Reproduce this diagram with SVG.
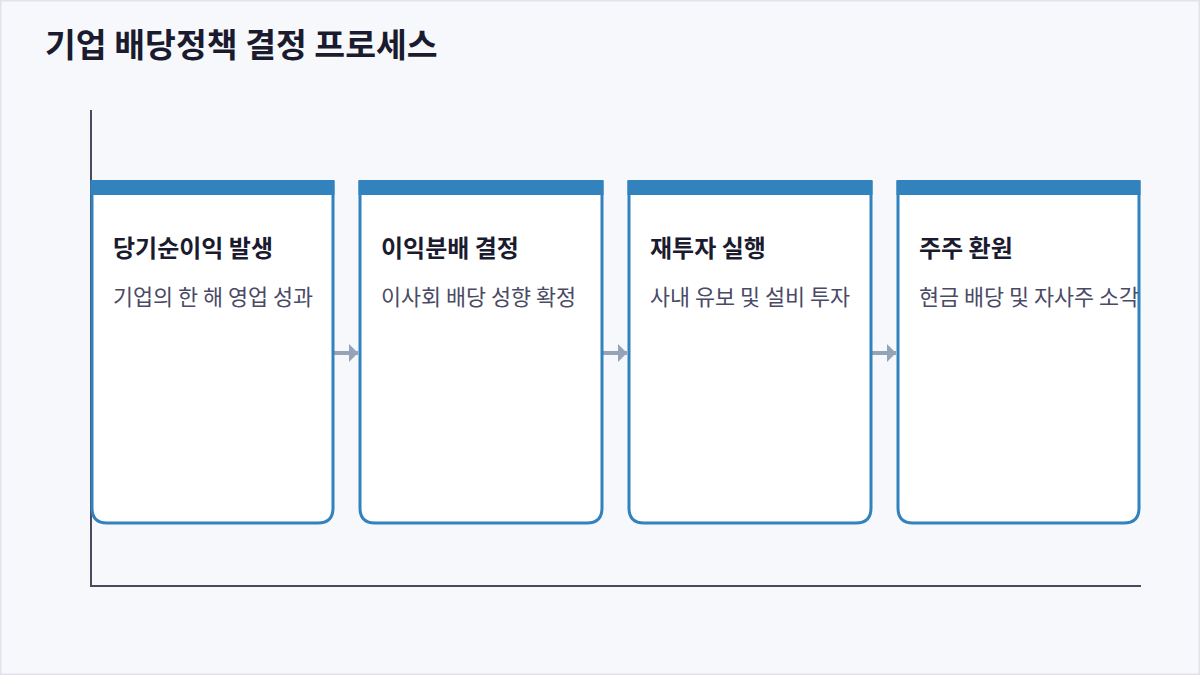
<svg xmlns="http://www.w3.org/2000/svg" width="1200" height="675" viewBox="0 0 1200 675">
<defs>
<style>
.title{font-family:"Noto Sans CJK KR","Noto Sans",sans-serif;font-weight:700;font-size:33.5px;fill:#1b1b2f}
.h{font-family:"Noto Sans CJK KR","Noto Sans",sans-serif;font-weight:700;font-size:24px;fill:#1b1b2f}
.s{font-family:"Noto Sans CJK KR","Noto Sans",sans-serif;font-weight:400;font-size:21.8px;fill:#4a4a66}
.card{fill:#ffffff;stroke:#3182bd;stroke-width:3}
.band{fill:#3182bd}
.axis{stroke:#4a4a5e;stroke-width:2;fill:none}
.arr{stroke:#94a3b8;stroke-width:4;fill:none}
</style>
<marker id="ah" viewBox="0 0 9 18" refX="9" refY="9" markerWidth="2.25" markerHeight="4.5" markerUnits="strokeWidth" orient="auto">
<path d="M0,0 L9,9 L0,18 Z" fill="#94a3b8"/>
</marker>
</defs>
<rect x="0.5" y="0.5" width="1199" height="674" fill="#f7f8fc" stroke="#e0e3eb" stroke-width="2"/>
<text class="title" x="45" y="57">기업 배당정책 결정 프로세스</text>
<g id="axes">
<path class="axis" d="M91,110 V586 H1141"/>
</g>
<g id="connectors">
<path class="arr" d="M331,353 H358" marker-end="url(#ah)"/>
<path class="arr" d="M600,353 H627" marker-end="url(#ah)"/>
<path class="arr" d="M868,353 H896" marker-end="url(#ah)"/>
</g>
<g id="node1">
<path class="card" d="M92,181 V508 Q92,523 107,523 H318 Q333,523 333,508 V181"/>
<rect class="band" x="90.5" y="180" width="244" height="15"/>
<text class="h" x="113" y="257">당기순이익 발생</text>
<text class="s" x="113" y="305">기업의 한 해 영업 성과</text>
</g>
<g id="node2">
<path class="card" d="M360,181 V508 Q360,523 375,523 H587 Q602,523 602,508 V181"/>
<rect class="band" x="358.5" y="180" width="245" height="15"/>
<text class="h" x="381" y="257">이익분배 결정</text>
<text class="s" x="381" y="305">이사회 배당 성향 확정</text>
</g>
<g id="node3">
<path class="card" d="M629,181 V508 Q629,523 644,523 H856 Q871,523 871,508 V181"/>
<rect class="band" x="627.5" y="180" width="245" height="15"/>
<text class="h" x="650" y="257">재투자 실행</text>
<text class="s" x="650" y="305">사내 유보 및 설비 투자</text>
</g>
<g id="node4">
<path class="card" d="M898,181 V508 Q898,523 913,523 H1124 Q1139,523 1139,508 V181"/>
<rect class="band" x="896.5" y="180" width="244" height="15"/>
<text class="h" x="919" y="257">주주 환원</text>
<text class="s" x="919" y="305">현금 배당 및 자사주 소각</text>
</g>
</svg>
